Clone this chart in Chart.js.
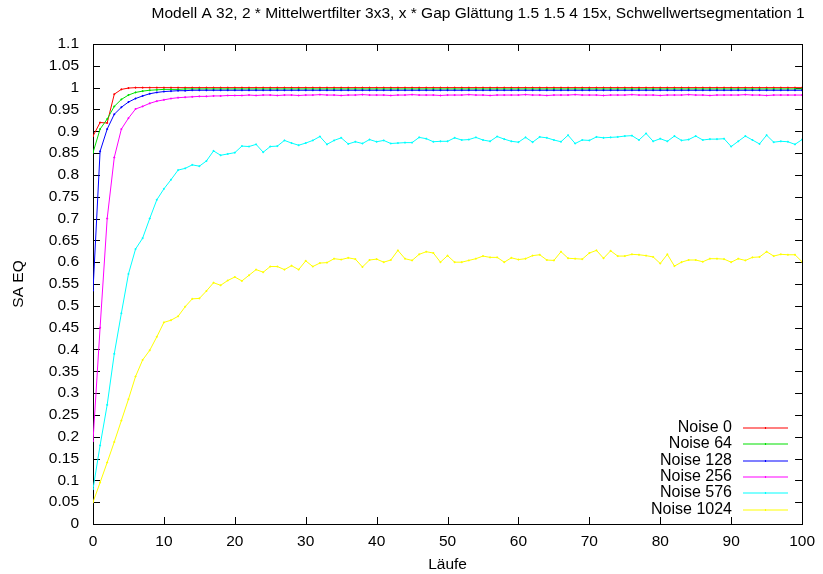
<!DOCTYPE html>
<html>
<head>
<meta charset="utf-8">
<title>SA EQ – Läufe</title>
<script src="https://cdn.jsdelivr.net/npm/chart.js@4.4.1/dist/chart.umd.min.js"></script>
<style>
  html, body { margin: 0; padding: 0; background: #fff; }
  #wrap { width: 823px; height: 574px; }
</style>
</head>
<body>
<div id="wrap"><canvas id="saChart" width="823" height="574"></canvas></div>
<script>
// Läufe 0 .. 100
const runs = Array.from({ length: 101 }, (_, i) => i);

const xTicks = [0, 10, 20, 30, 40, 50, 60, 70, 80, 90, 100];
const yTicks = [0, 0.05, 0.1, 0.15, 0.2, 0.25, 0.3, 0.35, 0.4, 0.45, 0.5, 0.55,
                0.6, 0.65, 0.7, 0.75, 0.8, 0.85, 0.9, 0.95, 1, 1.05, 1.1];

const seriesNames = ['Noise 0', 'Noise 64', 'Noise 128', 'Noise 256', 'Noise 576', 'Noise 1024'];
const seriesColors = ['#ff0000', '#00e000', '#0000ff', '#ff00ff', '#00ffff', '#ffff00'];

const noise0 = [
  0.889, 0.920, 0.919, 0.985, 0.996, 0.999, 1, 1, 1, 1,
  1, 1, 1, 1, 1, 1, 1, 1, 1, 1,
  1, 1, 1, 1, 1, 1, 1, 1, 1, 1,
  1, 1, 1, 1, 1, 1, 1, 1, 1, 1,
  1, 1, 1, 1, 1, 1, 1, 1, 1, 1,
  1, 1, 1, 1, 1, 1, 1, 1, 1, 1,
  1, 1, 1, 1, 1, 1, 1, 1, 1, 1,
  1, 1, 1, 1, 1, 1, 1, 1, 1, 1,
  1, 1, 1, 1, 1, 1, 1, 1, 1, 1,
  1, 1, 1, 1, 1, 1, 1, 1, 1, 1,
  1
];
const noise64 = [
  0.851, 0.905, 0.928, 0.957, 0.973, 0.983, 0.989, 0.992, 0.994, 0.995,
  0.996, 0.996, 0.996, 0.997, 0.997, 0.997, 0.997, 0.997, 0.997, 0.997,
  0.997, 0.997, 0.997, 0.997, 0.997, 0.997, 0.997, 0.997, 0.997, 0.997,
  0.997, 0.997, 0.997, 0.997, 0.997, 0.997, 0.997, 0.997, 0.997, 0.997,
  0.997, 0.997, 0.997, 0.997, 0.997, 0.997, 0.997, 0.997, 0.997, 0.997,
  0.997, 0.997, 0.997, 0.997, 0.997, 0.997, 0.997, 0.997, 0.997, 0.997,
  0.997, 0.997, 0.997, 0.997, 0.997, 0.997, 0.997, 0.997, 0.997, 0.997,
  0.997, 0.997, 0.997, 0.997, 0.997, 0.997, 0.997, 0.997, 0.997, 0.997,
  0.997, 0.997, 0.997, 0.997, 0.997, 0.997, 0.997, 0.997, 0.997, 0.997,
  0.997, 0.997, 0.997, 0.997, 0.997, 0.997, 0.997, 0.997, 0.997, 0.997,
  0.997
];
const noise128 = [
  0.535, 0.854, 0.905, 0.939, 0.955, 0.967, 0.975, 0.981, 0.986, 0.989,
  0.991, 0.992, 0.993, 0.993, 0.994, 0.994, 0.994, 0.994, 0.994, 0.994,
  0.994, 0.994, 0.994, 0.994, 0.994, 0.994, 0.994, 0.994, 0.994, 0.994,
  0.994, 0.994, 0.994, 0.994, 0.994, 0.994, 0.994, 0.994, 0.994, 0.994,
  0.994, 0.994, 0.994, 0.994, 0.994, 0.994, 0.994, 0.994, 0.994, 0.994,
  0.994, 0.994, 0.994, 0.994, 0.994, 0.994, 0.994, 0.994, 0.994, 0.994,
  0.994, 0.994, 0.994, 0.994, 0.994, 0.994, 0.994, 0.994, 0.994, 0.994,
  0.994, 0.994, 0.994, 0.994, 0.994, 0.994, 0.994, 0.994, 0.994, 0.994,
  0.994, 0.994, 0.994, 0.994, 0.994, 0.994, 0.994, 0.994, 0.994, 0.994,
  0.994, 0.994, 0.994, 0.994, 0.994, 0.994, 0.994, 0.994, 0.994, 0.994,
  0.994
];
const noise256 = [
  0.190, 0.450, 0.700, 0.840, 0.905, 0.930, 0.951, 0.957, 0.964, 0.969,
  0.972, 0.975, 0.977, 0.978, 0.979, 0.980, 0.980, 0.981, 0.981, 0.982,
  0.982, 0.982, 0.983, 0.982, 0.983, 0.983, 0.982, 0.983, 0.983, 0.982,
  0.983, 0.983, 0.984, 0.983, 0.983, 0.982, 0.983, 0.983, 0.984, 0.983,
  0.983, 0.983, 0.982, 0.983, 0.983, 0.984, 0.983, 0.983, 0.983, 0.982,
  0.983, 0.983, 0.983, 0.984, 0.983, 0.983, 0.982, 0.983, 0.983, 0.983,
  0.983, 0.984, 0.983, 0.983, 0.982, 0.983, 0.983, 0.983, 0.984, 0.983,
  0.983, 0.983, 0.982, 0.983, 0.983, 0.983, 0.984, 0.983, 0.983, 0.983,
  0.982, 0.983, 0.983, 0.983, 0.984, 0.983, 0.983, 0.982, 0.983, 0.983,
  0.983, 0.983, 0.984, 0.983, 0.983, 0.982, 0.983, 0.983, 0.983, 0.983,
  0.983
];
const noise576 = [
  0.080, 0.180, 0.273, 0.390, 0.483, 0.573, 0.630, 0.655, 0.700, 0.743,
  0.768, 0.789, 0.811, 0.815, 0.823, 0.820, 0.832, 0.855, 0.845, 0.848,
  0.851, 0.866, 0.865, 0.870, 0.852, 0.865, 0.866, 0.879, 0.873, 0.868,
  0.873, 0.879, 0.888, 0.870, 0.879, 0.885, 0.871, 0.876, 0.872, 0.881,
  0.876, 0.879, 0.872, 0.873, 0.874, 0.874, 0.886, 0.883, 0.876, 0.877,
  0.877, 0.885, 0.880, 0.881, 0.886, 0.880, 0.877, 0.888, 0.882, 0.877,
  0.875, 0.886, 0.875, 0.887, 0.885, 0.880, 0.876, 0.891, 0.872, 0.880,
  0.879, 0.887, 0.885, 0.886, 0.887, 0.889, 0.890, 0.880, 0.895, 0.877,
  0.883, 0.877, 0.889, 0.879, 0.881, 0.889, 0.880, 0.882, 0.882, 0.883,
  0.865, 0.877, 0.889, 0.880, 0.871, 0.891, 0.875, 0.877, 0.876, 0.870,
  0.881
];
const noise1024 = [
  0.050, 0.095, 0.141, 0.188, 0.237, 0.286, 0.338, 0.376, 0.398, 0.429,
  0.462, 0.467, 0.476, 0.498, 0.516, 0.517, 0.534, 0.553, 0.547, 0.558,
  0.566, 0.557, 0.570, 0.583, 0.577, 0.590, 0.590, 0.583, 0.592, 0.583,
  0.603, 0.590, 0.598, 0.599, 0.608, 0.606, 0.610, 0.607, 0.589, 0.605,
  0.607, 0.600, 0.605, 0.627, 0.608, 0.604, 0.618, 0.624, 0.621, 0.600,
  0.615, 0.600, 0.600, 0.604, 0.608, 0.614, 0.611, 0.611, 0.600, 0.610,
  0.606, 0.608, 0.615, 0.617, 0.605, 0.604, 0.624, 0.609, 0.608, 0.607,
  0.621, 0.627, 0.609, 0.626, 0.614, 0.614, 0.618, 0.617, 0.615, 0.612,
  0.597, 0.618, 0.591, 0.600, 0.605, 0.605, 0.601, 0.608, 0.608, 0.607,
  0.600, 0.608, 0.604, 0.611, 0.612, 0.624, 0.614, 0.618, 0.617, 0.617,
  0.601
];

const seriesValues = [noise0, noise64, noise128, noise256, noise576, noise1024];
const titleText = 'Modell A 32, 2 * Mittelwertfilter 3x3, x * Gap Glättung 1.5 1.5 4 15x, Schwellwertsegmentation 1';

const fontFamily = "'Liberation Sans', Arial, Helvetica, sans-serif";
const textFont = { family: fontFamily, size: 15.5 };

// Rahmen mit nach innen zeigenden Ticks (auch oben und rechts gespiegelt)
const frame = {
  id: 'frame',
  beforeDatasetsDraw(chart) {
    const { ctx, chartArea: a, scales: { x, y } } = chart;
    const len = 7;
    ctx.save();
    ctx.strokeStyle = '#000';
    ctx.lineWidth = 1;
    ctx.beginPath();
    yTicks.forEach(v => {
      const py = Math.round(y.getPixelForValue(v)) + 0.5;
      ctx.moveTo(a.left, py); ctx.lineTo(a.left + len, py);
      ctx.moveTo(a.right, py); ctx.lineTo(a.right - len, py);
    });
    xTicks.forEach(v => {
      const px = Math.round(x.getPixelForValue(v)) + 0.5;
      ctx.moveTo(px, a.bottom); ctx.lineTo(px, a.bottom - len);
      ctx.moveTo(px, a.top); ctx.lineTo(px, a.top + len);
    });
    ctx.stroke();
    ctx.strokeRect(Math.round(a.left) + 0.5, Math.round(a.top) + 0.5,
                   Math.round(a.right - a.left), Math.round(a.bottom - a.top));
    ctx.restore();
  },
  afterDraw(chart) {
    const { ctx } = chart;
    ctx.save();
    ctx.fillStyle = '#000';
    ctx.font = `${textFont.size}px ${fontFamily}`;
    ctx.textBaseline = 'middle';

    // Titel
    ctx.textAlign = 'center';
    ctx.fillText(titleText, 478, 14);

    // Legende unten rechts im Diagramm
    ctx.font = `16px ${fontFamily}`;
    ctx.textAlign = 'right';
    seriesNames.forEach((name, i) => {
      const ly = Math.round(428 + i * 16.3);
      ctx.fillStyle = '#000';
      ctx.fillText(name, 732, ly);
      ctx.strokeStyle = seriesColors[i];
      ctx.lineWidth = 1.2;
      ctx.beginPath();
      ctx.moveTo(743, ly);
      ctx.lineTo(788, ly);
      ctx.moveTo(765.5, ly - 1);
      ctx.lineTo(765.5, ly + 1);
      ctx.stroke();
    });
    ctx.restore();
  }
};

new Chart(document.getElementById('saChart'), {
  type: 'line',
  data: {
    labels: runs,
    datasets: seriesNames.map((name, i) => ({
      label: name,
      data: seriesValues[i],
      borderColor: seriesColors[i],
      backgroundColor: seriesColors[i],
      borderWidth: 1,
      tension: 0,
      pointStyle: 'cross',
      pointRadius: 1,
      pointBorderWidth: 1,
      order: seriesNames.length - i
    }))
  },
  options: {
    responsive: false,
    animation: false,
    events: [],
    layout: { padding: { top: 44, right: 16, bottom: 0, left: 0 } },
    plugins: {
      legend: { display: false },
      title: { display: false },
      tooltip: { enabled: false }
    },
    scales: {
      x: {
        type: 'linear',
        min: 0,
        max: 100,
        afterBuildTicks: s => { s.ticks = xTicks.map(v => ({ value: v })); },
        afterFit: s => { s.height = 50; },
        grid: { display: false, drawTicks: false },
        border: { display: false },
        ticks: { color: '#000', font: textFont, padding: 8, maxRotation: 0, autoSkip: false,
                 callback: v => String(v) },
        title: { display: true, text: 'Läufe', color: '#000', font: textFont,
                 padding: { top: 0, bottom: 0 } }
      },
      y: {
        min: 0,
        max: 1.1,
        afterBuildTicks: s => { s.ticks = yTicks.map(v => ({ value: v })); },
        afterFit: s => { s.width = 93; },
        grid: { display: false, drawTicks: false },
        border: { display: false },
        ticks: { color: '#000', font: textFont, padding: 14, autoSkip: false,
                 callback: v => String(+v.toFixed(2)) },
        title: { display: true, text: 'SA EQ', color: '#000', font: textFont,
                 padding: { top: 9, bottom: 0 } }
      }
    }
  },
  plugins: [frame]
});
</script>
</body>
</html>
